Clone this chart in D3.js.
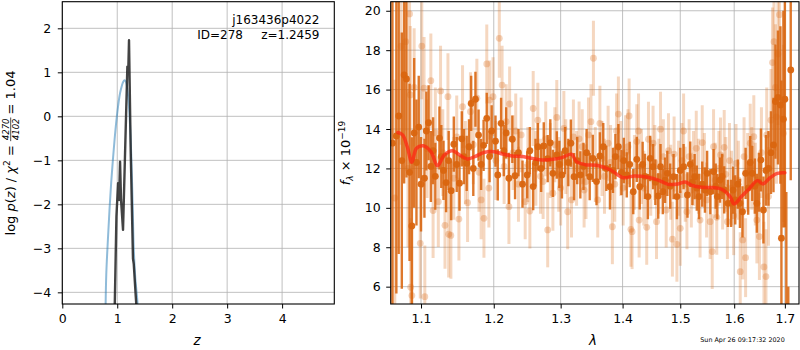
<!DOCTYPE html>
<html>
<head>
<meta charset="utf-8">
<script src="https://cdn.jsdelivr.net/npm/d3@7"></script>
<style>
  body { margin:0; background:#fff; }
  svg { display:block; font-family:"DejaVu Sans", sans-serif; }
</style>
</head>
<body>
<svg id="fig" width="800" height="350"></svg>
<script>
// ---- p(z) panel ----
const zTicks = [0, 1, 2, 3, 4];
const pzTicks = [-4, -3, -2, -1, 0, 1, 2];
// prior / smooth curve  [z, log p]
const priorCurve = [[0.785,-4.6],[0.80,-3.6],[0.83,-2.8],[0.86,-2.1],[0.89,-1.5],[0.92,-1.0],[0.95,-0.55],[0.98,-0.15],
  [1.01,0.18],[1.04,0.45],[1.07,0.63],[1.10,0.76],[1.13,0.82],[1.16,0.78],[1.19,0.55],[1.22,0.1],[1.25,-0.7],
  [1.28,-2.0],[1.30,-3.0],[1.33,-3.7],[1.36,-4.1],[1.39,-4.6]];
// posterior  [z, log p]
const pzCurve = [[0.95,-4.6],[0.985,-2.28],[1.015,-1.52],[1.033,-1.9],[1.051,-1.03],[1.069,-1.9],[1.085,-2.2],[1.105,-2.58],
  [1.184,1.13],[1.200,1.0],[1.214,1.73],[1.245,-0.8],[1.286,-3.23],[1.300,-3.35],[1.335,-4.06],[1.365,-4.6]];
const objName = 'j163436p4022', objId = 'ID=278', zBest = 'z=1.2459';
const chi2Num = '4270', chi2Den = '4102', chi2Ratio = '1.04';

// ---- spectrum panel ----
const lamTicks = [1.1, 1.2, 1.3, 1.4, 1.5, 1.6, 1.7];
const fluxTicks = [6, 8, 10, 12, 14, 16, 18, 20];
// grism A (solid)  [lambda, flux, err]
const specA = [[1.063,13.28,8.5],[1.068,13.65,8.0],[1.071,14.66,7.0],[1.075,12.4,6.5],[1.078,16.74,5.5],[1.081,16.54,5.0],
  [1.085,11.8,4.5],[1.088,9.08,4.5],[1.091,13.8,3.8],[1.094,12.3,3.2],[1.097,14.1,2.6],[1.100,11.2,2.4],
  [1.1045,11.5,2.0],[1.107,13.9,2.0],[1.110,14.32,1.9],[1.113,12.1,1.8],[1.116,12.9,1.7],[1.119,11.6,1.7],
  [1.1245,13.54,1.6],[1.127,12.6,1.6],[1.130,11.9,1.5],[1.1335,11.28,1.5],[1.137,12.4,1.5],[1.1404,10.87,1.5],
  [1.144,13.23,1.4],[1.148,12.2,1.4],[1.1518,11.25,1.4],[1.155,13.5,1.4],[1.158,12.6,1.4],[1.1618,12.26,1.4],
  [1.165,13.1,1.4],[1.168,15.3,1.4],[1.171,12.0,1.4],[1.174,15.51,1.4],[1.1784,13.69,1.3],[1.182,12.2,1.3],
  [1.1855,13.17,1.3],[1.190,14.54,1.3],[1.194,12.6,1.3],[1.197,13.9,1.3],[1.2025,13.38,1.3],[1.2058,11.67,1.3],
  [1.2106,14.29,1.3],[1.2145,12.9,1.3],[1.218,13.8,1.3],[1.222,11.5,1.3],[1.227,13.48,1.2],[1.231,11.63,1.2],
  [1.236,12.8,1.2],[1.242,11.2,1.2],[1.249,11.67,1.2],[1.253,12.9,1.2],[1.258,11.08,1.2],[1.2615,12.3,1.2],
  [1.265,13.1,1.2],[1.270,12.0,1.2],[1.274,13.14,1.2],[1.280,12.5,1.2],[1.284,13.3,1.2],[1.288,11.75,1.2],
  [1.294,12.68,1.2],[1.298,12.2,1.2],[1.302,11.67,1.2],[1.307,12.9,1.2],[1.312,12.3,1.2],[1.316,13.28,1.2],
  [1.321,11.58,1.2],[1.326,12.4,1.2],[1.331,11.67,1.2],[1.336,12.1,1.2],[1.341,12.8,1.2],[1.346,11.58,1.2],
  [1.351,12.51,1.2],[1.357,11.33,1.2],[1.3625,12.63,1.2],[1.368,13.1,1.2],[1.373,12.0,1.15],[1.379,11.07,1.15],
  [1.384,11.9,1.15],[1.388,12.6,1.15],[1.393,13.1,1.15],[1.398,11.8,1.15],[1.402,12.4,1.15],[1.407,11.67,1.15],
  [1.412,12.2,1.15],[1.418,10.82,1.15],[1.424,12.46,1.15],[1.429,11.07,1.15],[1.434,12.2,1.15],[1.438,11.6,1.15],
  [1.443,10.57,1.15],[1.447,12.51,1.15],[1.452,12.09,1.15],[1.456,11.3,1.15],[1.461,10.6,1.15],[1.465,12.09,1.15],
  [1.469,10.82,1.15],[1.473,11.4,1.15],[1.477,11.75,1.15],[1.482,11.1,1.15],[1.488,11.58,1.15],[1.494,10.57,1.15],
  [1.500,11.9,1.15],[1.506,12.09,1.15],[1.513,10.65,1.15],[1.518,12.21,1.15],[1.522,11.3,1.15],[1.526,11.58,1.15],
  [1.530,11.0,1.15],[1.534,10.57,1.15],[1.540,11.2,1.15],[1.545,10.9,1.15],[1.549,11.75,1.15],[1.555,10.82,1.15],
  [1.561,11.84,1.15],[1.565,11.1,1.15],[1.568,10.57,1.15],[1.573,11.41,1.15],[1.577,11.6,1.15],[1.581,10.91,1.2],
  [1.588,10.23,1.2],[1.594,10.23,1.2],[1.598,10.9,1.2],[1.602,10.4,1.25],[1.607,11.2,1.25],[1.611,10.23,1.25],
  [1.616,9.8,1.3],[1.622,11.75,1.3],[1.627,11.0,1.35],[1.631,12.3,1.35],[1.635,11.75,1.4],[1.640,11.1,1.4],
  [1.644,10.23,1.5],[1.648,11.3,1.5],[1.652,12.43,1.6],[1.657,9.89,1.7],[1.662,11.9,1.8],[1.667,12.0,1.9],
  [1.672,12.8,2.1],[1.677,13.19,2.4],[1.681,15.39,2.9],[1.686,15.6,3.4],[1.691,15.22,4.0],[1.693,8.46,8.0],
  [1.697,14.5,5.5],[1.700,15.51,6.5],[1.703,4.8,6.0],[1.707,3.0,3.0],[1.712,17.0,5.6]];
// grism B (faded)  [lambda, flux, err]
const specB = [[1.066,10.5,6.0],[1.074,18.2,5.0],[1.080,18.43,4.5],[1.083,12.0,4.0],[1.085,19.84,4.0],[1.086,15.73,3.5],
  [1.0865,5.97,3.5],[1.088,5.55,3.5],[1.091,16.11,3.0],[1.099,8.2,2.8],[1.101,18.21,2.7],[1.104,16.07,2.6],
  [1.105,5.49,2.6],[1.108,13.0,2.5],[1.113,16.45,2.4],[1.116,9.86,2.4],[1.119,13.8,2.3],[1.123,10.31,2.3],
  [1.126,15.93,2.3],[1.129,12.8,2.2],[1.132,9.11,2.2],[1.136,15.64,2.2],[1.137,8.66,2.2],[1.140,8.6,2.2],
  [1.144,11.5,2.1],[1.148,13.6,2.1],[1.151,9.43,2.1],[1.156,15.13,2.1],[1.160,12.3,2.1],[1.163,10.26,2.0],
  [1.167,14.88,2.0],[1.171,13.2,2.0],[1.176,15.56,2.0],[1.179,11.8,2.0],[1.182,10.4,2.0],[1.186,9.47,2.0],
  [1.190,17.3,2.0],[1.193,11.0,2.0],[1.194,15.47,2.0],[1.199,15.64,2.0],[1.203,12.4,2.0],[1.208,18.6,2.0],
  [1.212,16.23,2.0],[1.215,12.1,1.9],[1.218,14.37,1.9],[1.222,10.06,1.9],[1.223,15.27,1.9],[1.228,12.8,1.9],
  [1.232,13.9,1.9],[1.236,11.2,1.9],[1.240,13.7,1.9],[1.246,10.31,1.9],[1.250,12.2,1.9],[1.253,9.84,1.9],
  [1.258,15.04,1.9],[1.262,12.0,1.9],[1.265,14.45,1.9],[1.269,11.6,1.9],[1.273,11.33,1.9],[1.277,13.5,1.9],
  [1.280,8.88,1.9],[1.284,12.4,1.9],[1.288,10.74,1.9],[1.291,13.2,1.9],[1.294,14.59,1.9],[1.297,11.7,1.9],
  [1.300,11.0,1.9],[1.305,14.03,1.9],[1.308,12.6,1.9],[1.311,9.8,1.9],[1.317,10.4,1.9],[1.320,13.6,1.9],
  [1.325,12.0,1.9],[1.329,13.5,1.9],[1.334,13.1,1.9],[1.337,10.9,1.9],[1.340,11.33,1.9],[1.344,13.7,1.9],
  [1.348,14.37,1.9],[1.352,17.59,1.9],[1.355,12.2,1.9],[1.359,10.4,1.9],[1.3625,14.29,1.9],[1.366,12.5,1.9],
  [1.370,11.6,1.9],[1.376,13.28,1.9],[1.380,12.3,1.9],[1.383,9.04,1.9],[1.387,11.2,1.9],[1.390,13.9,1.9],
  [1.393,14.76,1.9],[1.397,12.5,1.9],[1.401,11.0,1.9],[1.405,12.8,1.9],[1.409,13.1,1.9],[1.411,14.66,1.9],
  [1.414,8.91,1.9],[1.416,8.79,1.9],[1.420,11.8,1.9],[1.424,13.36,1.9],[1.427,13.9,1.9],[1.428,9.38,1.9],
  [1.432,12.1,1.9],[1.436,11.0,1.9],[1.441,9.01,1.9],[1.444,13.48,1.9],[1.448,11.5,1.9],[1.452,13.28,1.9],
  [1.455,12.3,1.9],[1.458,9.3,1.9],[1.462,11.6,1.9],[1.465,13.99,1.9],[1.470,12.6,1.9],[1.475,9.89,1.9],
  [1.479,12.9,1.9],[1.483,11.3,1.9],[1.486,8.41,1.9],[1.489,12.73,1.9],[1.494,8.15,1.9],[1.497,11.5,1.9],
  [1.500,8.96,1.9],[1.503,12.4,1.9],[1.506,13.9,1.9],[1.509,11.2,1.9],[1.512,9.8,1.9],[1.516,12.6,1.9],
  [1.520,10.9,1.9],[1.524,12.0,1.9],[1.529,13.02,1.9],[1.533,11.6,1.9],[1.536,9.38,1.9],[1.540,13.31,1.9],
  [1.544,11.9,1.9],[1.548,10.4,1.9],[1.5546,9.3,1.9],[1.5585,7.78,1.9],[1.561,13.1,1.9],[1.564,11.4,1.9],
  [1.567,9.52,1.9],[1.571,12.0,1.9],[1.574,12.68,1.9],[1.578,10.8,1.9],[1.581,13.07,1.9],[1.584,11.7,1.9],
  [1.587,9.3,1.9],[1.591,12.4,1.9],[1.595,11.0,1.9],[1.599,9.6,2.0],[1.6035,12.26,2.0],[1.608,11.4,2.0],
  [1.6116,6.76,2.0],[1.6165,8.37,2.0],[1.619,12.6,2.0],[1.622,7.47,2.0],[1.626,11.8,2.0],[1.631,13.28,2.0],
  [1.634,12.0,2.1],[1.638,13.61,2.1],[1.641,11.2,2.1],[1.644,9.38,2.2],[1.649,8.54,2.2],[1.653,12.8,2.3],
  [1.658,7.0,2.3],[1.662,6.51,2.4],[1.6635,13.7,2.4],[1.667,10.57,2.5],[1.672,14.45,2.6],[1.675,17.37,2.8],
  [1.678,18.43,3.0],[1.681,16.11,3.2],[1.683,14.62,3.4],[1.686,17.8,3.6],[1.689,19.8,4.0],[1.697,13.78,4.5]];
// best-fit model  [lambda, flux]
const model = [[1.070,13.82],[1.076,13.70],[1.082,13.1],[1.088,12.31],[1.094,13.02],[1.103,13.15],[1.113,12.85],
  [1.122,12.14],[1.131,12.68],[1.142,12.90],[1.152,12.68],[1.163,12.48],[1.173,12.6],[1.187,12.82],[1.201,12.85],
  [1.213,12.73],[1.227,12.63],[1.242,12.6],[1.257,12.51],[1.272,12.43],[1.288,12.46],[1.303,12.56],[1.317,12.72],
  [1.325,12.34],[1.339,12.19],[1.357,12.16],[1.380,11.92],[1.401,11.53],[1.420,11.62],[1.443,11.55],[1.461,11.41],
  [1.478,11.2],[1.496,11.21],[1.509,11.31],[1.521,11.14],[1.539,11.04],[1.564,11.02],[1.579,10.91],[1.592,10.57],
  [1.600,10.2],[1.614,10.57],[1.630,11.0],[1.645,11.38],[1.656,11.21],[1.669,11.5],[1.685,11.75],[1.700,11.78]];
const stamp = 'Sun Apr 26 09:17:32 2020';

const svg = d3.select('#fig');
const gridCol = '#b0b0b0', tickFont = 12.5;
const colA = '#d9650f', colB = '#dc6e1e';

// grid + clip group for one panel
function drawAxes(P, x, y, xt, yt, id){
  const g = svg.append('g');
  g.selectAll('.gx').data(xt).join('line')
    .attr('x1', d => x(d)).attr('x2', d => x(d)).attr('y1', P.y0).attr('y2', P.y1)
    .attr('stroke', gridCol).attr('stroke-width', 0.8);
  g.selectAll('.gy').data(yt).join('line')
    .attr('y1', d => y(d)).attr('y2', d => y(d)).attr('x1', P.x0).attr('x2', P.x1)
    .attr('stroke', gridCol).attr('stroke-width', 0.8);
  svg.append('clipPath').attr('id', id).append('rect')
    .attr('x', P.x0).attr('y', P.y0).attr('width', P.x1 - P.x0).attr('height', P.y1 - P.y0);
  return svg.append('g').attr('clip-path', `url(#${id})`);
}
function finishAxes(P, x, y, xt, yt, xfmt, yfmt, ypad){
  const ax = svg.append('g').attr('transform', `translate(0,${P.y1})`)
    .call(d3.axisBottom(x).tickValues(xt).tickFormat(xfmt).tickSizeOuter(0).tickSize(4.5).tickPadding(6));
  const ay = svg.append('g').attr('transform', `translate(${P.x0},0)`)
    .call(d3.axisLeft(y).tickValues(yt).tickFormat(yfmt).tickSizeOuter(0).tickSize(4.5).tickPadding(ypad));
  [ax, ay].forEach(a => {
    a.select('.domain').remove();
    a.selectAll('text').attr('font-size', tickFont).attr('font-family', '"DejaVu Sans", sans-serif').attr('fill', '#000');
    a.selectAll('line').attr('stroke', '#000').attr('stroke-width', 1);
  });
  svg.append('rect').attr('x', P.x0).attr('y', P.y0).attr('width', P.x1 - P.x0).attr('height', P.y1 - P.y0)
    .attr('fill', 'none').attr('stroke', '#000').attr('stroke-width', 1.1);
}

// ---------- left panel ----------
const L = { x0:62.3, x1:334.3, y0:1.7, y1:304 };
const xz = d3.scaleLinear().domain([0, 4.95]).range([L.x0, L.x1]);
const yp = d3.scaleLinear().domain([-4.265, 2.605]).range([L.y1, L.y0]);
const gl = drawAxes(L, xz, yp, zTicks, pzTicks, 'clipL');
gl.append('path').attr('d', d3.line().curve(d3.curveCatmullRom).x(d => xz(d[0])).y(d => yp(d[1]))(priorCurve))
  .attr('fill', 'none').attr('stroke', '#1f77b4').attr('stroke-opacity', 0.5).attr('stroke-width', 2);
gl.append('path').attr('d', d3.line().x(d => xz(d[0])).y(d => yp(d[1]))(pzCurve))
  .attr('fill', 'none').attr('stroke', '#222').attr('stroke-opacity', 0.85).attr('stroke-width', 2.4)
  .attr('stroke-linejoin', 'round');
finishAxes(L, xz, yp, zTicks, pzTicks, d3.format('d'), d3.format('d'), 6.5);

svg.append('text').attr('x', 319.5).attr('y', 24).attr('text-anchor', 'end').attr('font-size', 12).text(objName);
svg.append('text').attr('x', 243).attr('y', 39).attr('text-anchor', 'end').attr('font-size', 12).text(objId);
svg.append('text').attr('x', 319.5).attr('y', 39).attr('text-anchor', 'end').attr('font-size', 12).text(zBest);

// y label with stacked fraction
const yl = svg.append('g').attr('transform', 'translate(15,153) rotate(-90)');
const yli = yl.append('g');
const t1 = yli.append('text').attr('font-size', 13);
t1.append('tspan').text('log ');
t1.append('tspan').attr('font-style', 'italic').text('p');
t1.append('tspan').text('(');
t1.append('tspan').attr('font-style', 'italic').text('z');
t1.append('tspan').text(')\u00a0/\u00a0');
t1.append('tspan').attr('font-style', 'italic').text('χ');
t1.append('tspan').attr('font-size', 9).attr('dy', -5).text('2');
t1.append('tspan').attr('dy', 5).text('\u00a0=');
const w1 = t1.node().getComputedTextLength() + 4;
const fn = yli.append('text').attr('font-size', 8.5).attr('font-style', 'italic').attr('y', -6).text(chi2Num);
const fd = yli.append('text').attr('font-size', 8.5).attr('font-style', 'italic').attr('y', 3.5).text(chi2Den);
const wf = Math.max(fn.node().getComputedTextLength(), fd.node().getComputedTextLength()) + 2;
fn.attr('x', w1 + 1); fd.attr('x', w1 + 1);
yli.append('line').attr('x1', w1).attr('x2', w1 + wf).attr('y1', -4.3).attr('y2', -4.3)
  .attr('stroke', '#000').attr('stroke-width', 0.7);
const t3 = yli.append('text').attr('font-size', 13).attr('x', w1 + wf + 3).text('=\u00a0' + chi2Ratio);
const wt = w1 + wf + 3 + t3.node().getComputedTextLength();
yli.attr('transform', `translate(${-wt / 2},0)`);

svg.append('text').attr('x', 197).attr('y', 345).attr('text-anchor', 'middle')
  .attr('font-size', 13.5).attr('font-style', 'italic').text('z');

// ---------- right panel ----------
const R = { x0:390.7, x1:799, y0:1.7, y1:304 };
const xl = d3.scaleLog().domain([1.0608, 1.729]).range([R.x0, R.x1]);
const yf = d3.scaleLinear().domain([5.12, 20.46]).range([R.y1, R.y0]);
const gr = drawAxes(R, xl, yf, lamTicks, fluxTicks, 'clipR');

function drawSpec(rows, col, barOp, dotOp, bw){
  gr.append('g').selectAll('line').data(rows).join('line')
    .attr('x1', d => xl(d[0])).attr('x2', d => xl(d[0]))
    .attr('y1', d => yf(d[1] - d[2])).attr('y2', d => yf(d[1] + d[2]))
    .attr('stroke', col).attr('stroke-opacity', barOp).attr('stroke-width', bw);
  gr.append('g').selectAll('circle').data(rows).join('circle')
    .attr('cx', d => xl(d[0])).attr('cy', d => yf(d[1])).attr('r', 3.4)
    .attr('fill', col).attr('fill-opacity', dotOp);
}
drawSpec(specB, colB, 0.28, 0.3, 3);
drawSpec(specA, colA, 0.88, 0.95, 2.4);
gr.append('path').attr('d', d3.line().curve(d3.curveCatmullRom).x(d => xl(d[0])).y(d => yf(d[1]))(model))
  .attr('fill', 'none').attr('stroke', '#ff2412').attr('stroke-opacity', 0.72).attr('stroke-width', 3.5)
  .attr('stroke-linecap', 'round');
finishAxes(R, xl, yf, lamTicks, fluxTicks, d3.format('.1f'), d3.format('d'), 5.5);

const fl = svg.append('text').attr('transform', 'translate(350,153) rotate(-90)')
  .attr('text-anchor', 'middle').attr('font-size', 13);
fl.append('tspan').attr('font-style', 'italic').text('f');
fl.append('tspan').attr('font-size', 9).attr('dy', 3).attr('font-style', 'italic').text('λ');
fl.append('tspan').attr('dy', -3).text('\u00a0×\u00a010');
fl.append('tspan').attr('font-size', 9).attr('dy', -5).text('−19');

svg.append('text').attr('x', 593).attr('y', 345).attr('text-anchor', 'middle')
  .attr('font-size', 13.5).attr('font-style', 'italic').text('λ');
svg.append('text').attr('x', 742.5).attr('y', 342).attr('text-anchor', 'middle')
  .attr('font-size', 6.4).text(stamp);
</script>
</body>
</html>
